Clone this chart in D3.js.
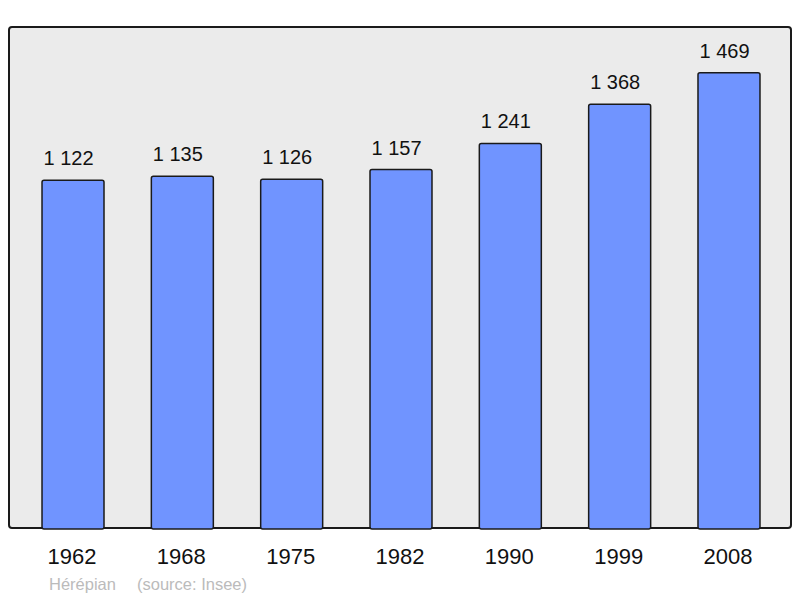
<!DOCTYPE html>
<html><head><meta charset="utf-8">
<script src="https://cdn.jsdelivr.net/npm/d3@7"></script>
<style>body{margin:0;background:#fff}svg{display:block;font-family:"Liberation Sans",Arial,sans-serif}</style>
</head><body><svg id="c" width="800" height="598"></svg>
<script>
const years = ["1962","1968","1975","1982","1990","1999","2008"];
const population = [1122,1135,1126,1157,1241,1368,1469];
const valueLabels = ["1 122","1 135","1 126","1 157","1 241","1 368","1 469"];
const commune = "Hérépian";
const source = "(source: Insee)";

const svg = d3.select("#c");
const L=9, R=791, T=27, B=528;
svg.append("rect").attr("x",L).attr("y",T).attr("width",R-L).attr("height",B-T)
  .attr("rx",3).attr("fill","#ebebeb").attr("stroke","#1a1a1a").attr("stroke-width",2);

const x = d3.scaleBand().domain(years).range([L, R+2]).paddingInner(0.433).paddingOuter(0.302);
const y = d3.scaleLinear().domain([0,1617]).range([B,T]);

svg.selectAll("rect.bar").data(population).join("rect").attr("class","bar")
  .attr("x",(d,i)=>x(years[i])).attr("width",x.bandwidth())
  .attr("y",d=>y(d)).attr("height",d=>B-y(d)+1)
  .attr("rx",2).attr("fill","#7094ff").attr("stroke","#1a1a1a").attr("stroke-width",1.5);

svg.selectAll("text.val").data(population).join("text").attr("class","val")
  .attr("x",(d,i)=>x(years[i])+x.bandwidth()/2-4.5).attr("y",d=>y(d)-15)
  .attr("text-anchor","middle").attr("font-size",20).attr("fill","#111")
  .text((d,i)=>valueLabels[i]);

svg.selectAll("text.yr").data(years).join("text").attr("class","yr")
  .attr("x",d=>x(d)+x.bandwidth()/2-1).attr("y",564)
  .attr("text-anchor","middle").attr("font-size",22).attr("fill","#111").text(d=>d);

svg.append("text").attr("x",49).attr("y",590).attr("font-size",16.5).attr("fill","#bbbbbb").text(commune);
svg.append("text").attr("x",137).attr("y",590).attr("font-size",16.5).attr("fill","#bbbbbb").text(source);
</script></body></html>
